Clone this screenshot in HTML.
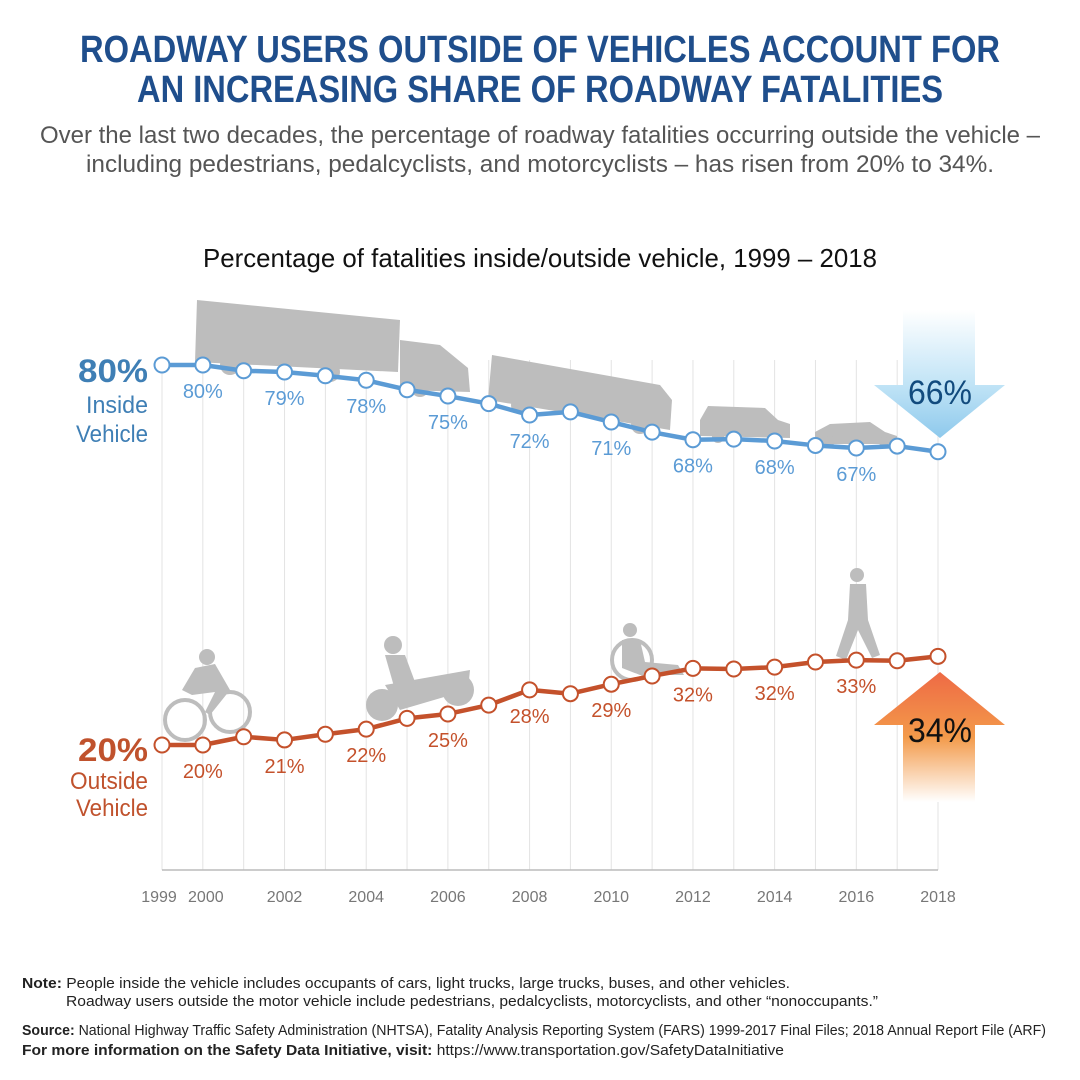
<!DOCTYPE html>
<html><head><meta charset="utf-8">
<style>
body{margin:0;background:#fff;}
svg{display:block;font-family:"Liberation Sans Narrow","Liberation Sans",sans-serif;}
</style></head>
<body>
<svg id="chart" width="1080" height="1080" viewBox="0 0 1080 1080">
<defs>
<linearGradient id="gdown" x1="0" y1="0" x2="0" y2="1">
<stop offset="0" stop-color="#ffffff"/><stop offset="0.6" stop-color="#bfe3f6"/><stop offset="1" stop-color="#8ec9ec"/></linearGradient>
<linearGradient id="gup" x1="0" y1="0" x2="0" y2="1">
<stop offset="0" stop-color="#ee6a45"/><stop offset="0.5" stop-color="#f39a4a"/><stop offset="1" stop-color="#ffffff"/></linearGradient>
</defs>
<text x="540" y="62" text-anchor="middle" font-size="38" font-weight="bold" fill="#1f4e8c" textLength="920" lengthAdjust="spacingAndGlyphs">ROADWAY USERS OUTSIDE OF VEHICLES ACCOUNT FOR</text>
<text x="540" y="102" text-anchor="middle" font-size="38" font-weight="bold" fill="#1f4e8c" textLength="806" lengthAdjust="spacingAndGlyphs">AN INCREASING SHARE OF ROADWAY FATALITIES</text>
<text x="540" y="143" text-anchor="middle" font-size="24" fill="#555" textLength="1000" lengthAdjust="spacingAndGlyphs">Over the last two decades, the percentage of roadway fatalities occurring outside the vehicle –</text>
<text x="540" y="172" text-anchor="middle" font-size="24" fill="#555" textLength="908" lengthAdjust="spacingAndGlyphs">including pedestrians, pedalcyclists, and motorcyclists – has risen from 20% to 34%.</text>
<text x="540" y="267" text-anchor="middle" font-size="26" fill="#111" textLength="674" lengthAdjust="spacingAndGlyphs">Percentage of fatalities inside/outside vehicle, 1999 – 2018</text>

<g id="grid"></g>

<g fill="#bdbdbd">
<g>
<polygon points="197,300 400,320 398,372 195,362"/>
<polygon points="400,340 440,345 468,368 470,392 400,390"/>
<circle cx="230" cy="365" r="10"/><circle cx="330" cy="372" r="10"/><circle cx="420" cy="388" r="9"/>
</g>
<g>
<polygon points="492,355 660,385 672,400 670,430 488,400"/>
<circle cx="520" cy="405" r="9"/><circle cx="640" cy="425" r="9"/>
</g>
<g>
<polygon points="708,406 765,408 778,420 790,424 790,438 700,436 700,420"/>
<circle cx="718" cy="437" r="6"/><circle cx="774" cy="438" r="6"/>
</g>
<g>
<polygon points="830,424 870,422 885,432 897,436 897,444 815,444 815,432"/>
<circle cx="830" cy="441" r="5"/><circle cx="884" cy="442" r="5"/>
</g>
<g>
<circle cx="185" cy="720" r="20" fill="none" stroke="#bdbdbd" stroke-width="4"/>
<circle cx="230" cy="712" r="20" fill="none" stroke="#bdbdbd" stroke-width="4"/>
<circle cx="207" cy="657" r="8"/>
<polygon points="195,668 215,664 230,690 210,715 205,712 215,692 192,695 182,690"/>
</g>
<g>
<circle cx="382" cy="705" r="16"/><circle cx="458" cy="690" r="16"/>
<polygon points="385,685 470,670 468,690 400,710"/>
<circle cx="393" cy="645" r="9"/>
<polygon points="385,655 405,655 418,690 395,690"/>
</g>
<g>
<circle cx="632" cy="660" r="20" fill="none" stroke="#bdbdbd" stroke-width="4"/>
<circle cx="630" cy="630" r="7"/>
<polygon points="622,640 640,640 645,662 678,665 684,675 640,675 622,668"/>
</g>
<g>
<circle cx="857" cy="575" r="7"/>
<polygon points="850,584 866,584 868,620 880,655 872,658 858,630 846,660 836,656 848,620"/>
</g>
</g>

<g>
<polygon points="903,310 975,310 975,385 1005,385 940,438 874,385 903,385" fill="url(#gdown)"/>
<text x="940" y="404" text-anchor="middle" font-size="34" fill="#124b7e" textLength="64" lengthAdjust="spacingAndGlyphs">66%</text>
</g>
<g>
<polygon points="940,672 1005,725 975,725 975,802 903,802 903,725 874,725" fill="url(#gup)"/>
<text x="940" y="742" text-anchor="middle" font-size="34" fill="#111" textLength="64" lengthAdjust="spacingAndGlyphs">34%</text>
</g>

<g id="series"></g>

<text x="148" y="382" text-anchor="end" font-size="32" font-weight="bold" fill="#3f7fb5" textLength="70" lengthAdjust="spacingAndGlyphs">80%</text>
<text x="148" y="413" text-anchor="end" font-size="24" fill="#3f7fb5" textLength="62" lengthAdjust="spacingAndGlyphs">Inside</text>
<text x="148" y="442" text-anchor="end" font-size="24" fill="#3f7fb5" textLength="72" lengthAdjust="spacingAndGlyphs">Vehicle</text>
<text x="148" y="761" text-anchor="end" font-size="32" font-weight="bold" fill="#c0522d" textLength="70" lengthAdjust="spacingAndGlyphs">20%</text>
<text x="148" y="789" text-anchor="end" font-size="24" fill="#c0522d" textLength="78" lengthAdjust="spacingAndGlyphs">Outside</text>
<text x="148" y="816" text-anchor="end" font-size="24" fill="#c0522d" textLength="72" lengthAdjust="spacingAndGlyphs">Vehicle</text>

<g id="xaxis"></g>

<g font-size="15" fill="#222">
<text x="22" y="988" textLength="768" lengthAdjust="spacingAndGlyphs"><tspan font-weight="bold">Note:</tspan> People inside the vehicle includes occupants of cars, light trucks, large trucks, buses, and other vehicles.</text>
<text x="66" y="1006" textLength="812" lengthAdjust="spacingAndGlyphs">Roadway users outside the motor vehicle include pedestrians, pedalcyclists, motorcyclists, and other “nonoccupants.”</text>
<text x="22" y="1035" textLength="1024" lengthAdjust="spacingAndGlyphs"><tspan font-weight="bold">Source:</tspan> National Highway Traffic Safety Administration (NHTSA), Fatality Analysis Reporting System (FARS) 1999-2017 Final Files; 2018 Annual Report File (ARF)</text>
<text x="22" y="1055" textLength="762" lengthAdjust="spacingAndGlyphs"><tspan font-weight="bold">For more information on the Safety Data Initiative, visit:</tspan>  https://www.transportation.gov/SafetyDataInitiative</text>
</g>
</svg>
<script>
const years = [1999,2000,2001,2002,2003,2004,2005,2006,2007,2008,2009,2010,2011,2012,2013,2014,2015,2016,2017,2018];
const insideValues = [80,80,79.1,78.9,78.3,77.6,76.1,75.1,73.9,72.1,72.6,71.0,69.4,68.2,68.3,68.0,67.3,66.9,67.2,66.3];
const outsideValues = [20,20,21.3,20.8,21.7,22.5,24.2,24.9,26.3,28.7,28.1,29.6,30.9,32.1,32.0,32.3,33.1,33.4,33.3,34];
const labelYears = [2000,2002,2004,2006,2008,2010,2012,2014,2016];
const insideLabels = ["80%","79%","78%","75%","72%","71%","68%","68%","67%"];
const outsideLabels = ["20%","21%","22%","25%","28%","29%","32%","32%","33%"];
const tickYears = [1999,2000,2002,2004,2006,2008,2010,2012,2014,2016,2018];

const NS = "http://www.w3.org/2000/svg";
function xScale(yr){ return 162 + (yr - 1999) * (938 - 162) / 19; }
function yScale(v){ return 745 - (v - 20) * 6.333; }
function mk(tag, attrs, parent){ const e = document.createElementNS(NS, tag); for (const k in attrs) e.setAttribute(k, attrs[k]); parent.appendChild(e); return e; }

const grid = document.getElementById('grid');
years.forEach(function(yr){
  const l = mk('line', {x1:xScale(yr), x2:xScale(yr), y1:360, y2:870, stroke:'#e3e3e3', 'stroke-width':1}, grid);
  
  
});

const xaxis = document.getElementById('xaxis');
const base = mk('line', {x1:162, x2:938, y1:870, y2:870, stroke:'#bbb', 'stroke-width':1.5}, xaxis);


tickYears.forEach(function(yr){
  let x = xScale(yr);
  if (yr === 1999) x -= 3;
  if (yr === 2000) x += 3;
  const t = mk('text', {x:x, y:902, 'text-anchor':'middle', 'font-size':16, fill:'#777'}, xaxis);
  t.textContent = yr;
  
  
});

const series = document.getElementById('series');
function drawSeries(vals, color, name){
  const pts = vals.map(function(v,i){ return xScale(years[i]) + ',' + yScale(v); }).join(' ');
  const pl = mk('polyline', {points:pts, fill:'none', stroke:color, 'stroke-width':4.5, 'stroke-linejoin':'round'}, series);
  
  
  vals.forEach(function(v,i){
    const c = mk('circle', {cx:xScale(years[i]), cy:yScale(v), r:7.5, fill:'#fff', stroke:color, 'stroke-width':2}, series);
    
    
  });
}
drawSeries(insideValues, '#5b9bd5', 'inside');
drawSeries(outsideValues, '#c4512b', 'outside');

function drawLabels(labels, vals, color, name){
  labelYears.forEach(function(yr, i){
    const idx = years.indexOf(yr);
    const t = mk('text', {x:xScale(yr), y:yScale(vals[idx]) + 33, 'text-anchor':'middle', 'font-size':20, fill:color}, series);
    t.textContent = labels[i];
    
    
  });
}
drawLabels(insideLabels, insideValues, '#5b9bd5', 'inside');
drawLabels(outsideLabels, outsideValues, '#c4512b', 'outside');
</script>
</body></html>
